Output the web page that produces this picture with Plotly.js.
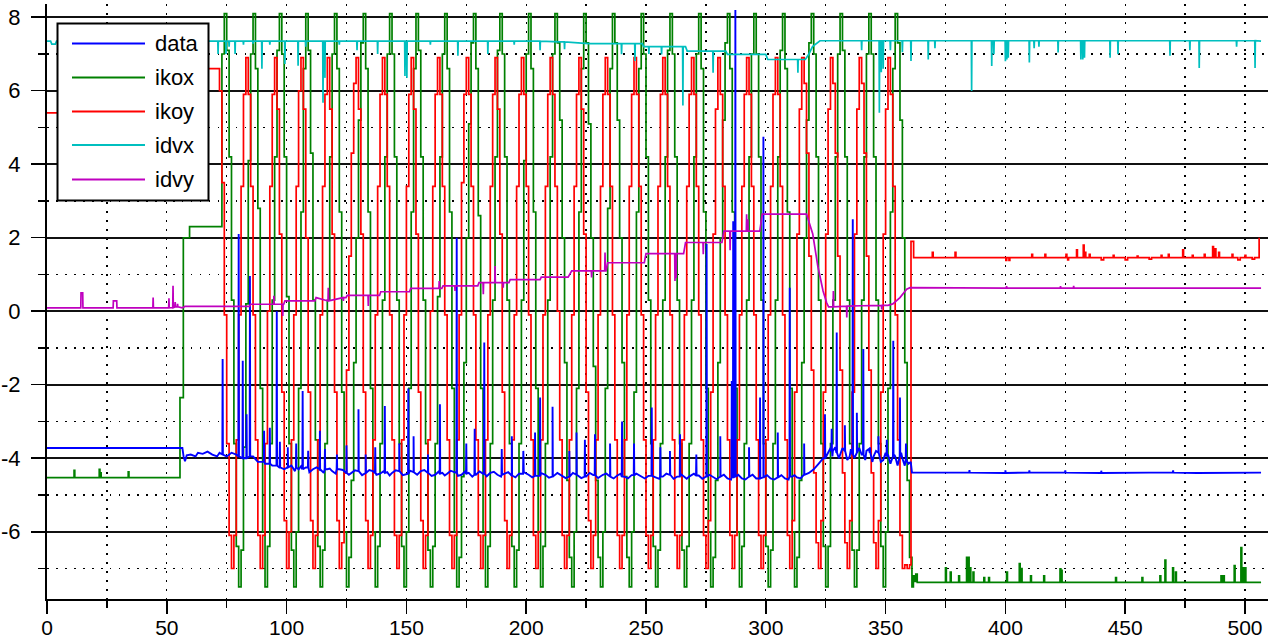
<!DOCTYPE html>
<html>
<head>
<meta charset="utf-8">
<script src="https://cdn.plot.ly/plotly-3.0.1.min.js"></script>
<style>html,body{margin:0;padding:0;background:#fff;}</style>
</head>
<body>
<div id="chart" style="width:1270px;height:640px;"></div>
<script>
// ---------------- DATA ----------------
const seriesNames = ['data', 'ikox', 'ikoy', 'idvx', 'idvy'];
const seriesColors = ['#0000ff', '#008000', '#ff0000', '#00bfbf', '#bf00bf'];

const xTickVals = [0, 50, 100, 150, 200, 250, 300, 350, 400, 450, 500];
const xMinorVals = [25, 75, 125, 175, 225, 275, 325, 375, 425, 475];
const yTickVals = [-6, -4, -2, 0, 2, 4, 6, 8];
const yTickText = ['-6', '-4', '-2', '0', '2', '4', '6', '8'];
const yMinorVals = [-7, -5, -3, -1, 1, 3, 5, 7];

// ikox (green): stepped trace
const ikoxPre = [[0,-4.53],[11.3,-4.33],[11.6,-4.53],[21.8,-4.3],[22.1,-4.53],[22.3,-4.4],[22.6,-4.53],
  [33.9,-4.37],[34.2,-4.53],[55.5,-2.35],[56.9,2.0],[59.5,2.3]];
const ikoxStart = 72;   // one sample per unit from here
const ikoxSamples = [2.3, 7.0,
  8.1, 7.1, 4.2, 0.3, -3.6, -6.4,
  -7.5, -6.5, -3.7, 0.2, 4.1, 7.0,
  8.1, 6.6, 2.8, -2.1, -6.0,
  -7.5, -6.4, -3.6, 0.3, 4.2, 7.1,
  8.1, 7.0, 4.2, 0.4, -3.6, -6.5,
  -7.5, -6.0, -2.1, 2.7, 6.6,
  8.1, 7.1, 4.3, 0.3, -3.5, -6.4,
  -7.5, -6.5, -3.6, 0.3, 4.2, 7.0,
  8.1, 6.6, 2.7, -2.2, -6.0,
  -7.5, -6.7, -4.6, -1.4, 2.0, 5.2, 7.3,
  8.1, 6.6, 2.7, -2.1, -6.0,
  -7.5, -6.4, -3.6, 0.3, 4.2, 7.0,
  8.1, 7.0, 4.2, 0.3, -3.6, -6.4,
  -7.5, -6.0, -2.1, 2.7, 6.6,
  8.1, 7.1, 4.2, 0.3, -3.6, -6.5,
  -7.5, -6.4, -3.6, 0.4, 4.2, 7.0,
  8.1, 6.6, 2.7, -2.1, -6.0,
  -7.5, -6.7, -4.5, -1.4, 2.0, 5.1, 7.3,
  8.1, 6.6, 2.6, -2.1, -6.0,
  -7.5, -6.4, -3.6, 0.3, 4.2, 7.1,
  8.1, 7.0, 4.2, 0.3, -3.6, -6.4,
  -7.5, -6.5, -3.6, 0.3, 4.1, 7.0,
  8.1, 6.6, 2.7, -2.1, -6.0,
  -7.5, -6.4, -3.6, 0.3, 4.2, 7.0,
  8.1, 7.3, 5.2, 2.0, -1.4, -4.6, -6.7,
  -7.5, -6.0, -2.1, 2.7, 6.6,
  8.1, 7.3, 5.1, 2.0, -1.5, -4.6, -6.7,
  -7.5, -6.0, -2.1, 2.8, 6.6,
  8.1, 7.3, 5.2, 2.0, -1.4, -4.5, -6.7,
  -7.5, -6.0, -2.2, 2.7, 6.6,
  8.1, 7.0, 4.2, 0.3, -3.6, -6.4,
  -7.5, -6.5, -3.6, 0.3, 4.2, 7.1,
  8.1, 7.0, 4.2, 0.3, -3.6, -6.5,
  -7.5, -6.4, -3.6, 0.3, 4.2, 7.0,
  8.1, 6.6, 2.7, -2.1, -6.0,
  -7.5, -6.7, -4.6, -1.4, 2.0, 5.2, 7.3,
  8.1, 6.6, 2.7, -2.1, -6.0,
  -7.5, -6.4, -3.6, 0.3, 4.2, 7.0,
  8.1, 7.0, 4.2, 0.3, -3.6, -6.4,
  -7.5, -6.5, -3.6, 0.3, 4.2, 7.1,
  8.1, 6.6, 2.7, -2.1, -6.0,
  -7.5, -6.7, -4.6, -1.4, 2.0, 5.2, 7.3,
  8.1, 7.0, 4.2, 0.3, -3.6, -6.4,
  -7.5, -6.4, -3.6, 0.3, 4.2, 7.0,
  8.1, 7.1, 4.2, 0.3, -3.6, -6.5,
  -7.5, -6.5, -3.6, 0.3, 4.2, 7.0,
  8.1, 7.0, 4.2, 0.3, -3.6, -6.4,
  -7.5, -6.0, -2.1, 2.7, 6.6,
  8.1, 7.3, 5.2, 2.0, -1.4, -4.6, -6.7,
  -7.5];
const ikoxPostBase = [[361.6,-7.2],[362.2,-7.35],[362.6,-7.15],[363.2,-7.38],[506.7,-7.38]];
const ikoxPostSpikes = [[375,-6.98],[377,-7.1],[380.5,-7.2],[383.8,-6.7],[384.5,-6.7],[385.2,-6.98],
  [386.5,-7.1],[391,-7.25],[393,-7.25],[400.5,-7.1],[405.8,-6.87],[406.6,-7.0],[410.5,-7.2],[416,-7.2],
  [422.8,-7.01],[423.3,-7.05],[446,-7.25],[457,-7.25],[464.5,-7.2],[466.6,-6.77],[469.8,-6.98],[471,-7.1],
  [490,-7.2],[491,-7.2],[495.5,-6.92],[498.3,-6.43],[499.2,-6.98],[500,-6.98]];
const ikoxBase = -7.38;

// ikoy (red): stepped trace
const ikoyPre = [[0,5.4],[57,6.6]];
const ikoyStart = 71;
const ikoySamples = [6.6, 6.0, 3.5, -0.1, -3.6, -6.1,
  -7.0, -6.1, -3.5, -0.1, 3.4, 5.9,
  6.9, 5.9, 3.4, -0.1, -3.5, -6.1,
  -7.0, -6.1, -3.6, 0.0, 3.4, 5.9,
  6.9, 5.5, 2.1, -2.2, -5.7,
  -7.0, -6.0, -3.5, -0.1, 3.4, 6.0,
  6.9, 5.5, 2.0, -2.2, -5.7,
  -7.0, -6.1, -3.5, -0.1, 3.4, 5.9,
  6.9, 5.5, 2.1, -2.2, -5.7,
  -7.0, -6.3, -4.4, -1.6, 1.5, 4.3, 6.2,
  6.9, 5.5, 2.1, -2.2, -5.7,
  -7.0, -6.1, -3.5, -0.1, 3.4, 5.9,
  6.9, 5.9, 3.4, -0.1, -3.5, -6.1,
  -7.0, -6.1, -3.5, -0.1, 3.4, 5.9,
  6.9, 5.5, 2.1, -2.2, -5.7,
  -7.0, -6.1, -3.5, 0.0, 3.4, 5.9,
  6.9, 5.9, 3.4, -0.1, -3.5, -6.1,
  -7.0, -6.1, -3.5, -0.1, 3.5, 5.9,
  6.9, 5.9, 3.4, -0.1, -3.5, -6.1,
  -7.0, -6.1, -3.5, -0.1, 3.4, 5.9,
  6.9, 5.5, 2.1, -2.2, -5.7,
  -7.0, -6.1, -3.5, -0.1, 3.4, 5.9,
  6.9, 5.9, 3.4, -0.1, -3.5, -6.1,
  -7.0, -6.0, -3.5, -0.1, 3.4, 5.9,
  6.9, 5.9, 3.4, 0.0, -3.5, -6.1,
  -7.0, -6.1, -3.5, -0.1, 3.4, 5.9,
  6.9, 5.5, 2.1, -2.2, -5.7,
  -7.0, -6.1, -3.5, -0.1, 3.4, 5.9,
  6.9, 5.9, 3.4, -0.1, -3.5, -6.1,
  -7.0, -6.1, -3.5, -0.1, 3.4, 5.9,
  6.9, 5.9, 3.4, -0.1, -3.5, -6.1,
  -7.0, -6.1, -3.5, -0.1, 3.4, 5.9,
  6.9, 5.9, 3.4, -0.1, -3.5, -6.1,
  -7.0, -6.1, -3.5, -0.1, 3.4, 5.9,
  6.9, 5.9, 3.4, -0.1, -3.5, -6.1,
  -7.0, -5.7, -2.2, 2.1, 5.5,
  6.9, 5.9, 3.4, -0.1, -3.5, -6.1,
  -7.0, -6.1, -3.5, -0.1, 3.4, 5.9,
  6.9, 5.9, 3.4, -0.1, -3.5, -6.1,
  -7.0, -6.1, -3.5, -0.1, 3.4, 5.9,
  6.9, 5.9, 3.4, -0.1, -3.5, -6.1,
  -7.0, -5.7, -2.2, 2.1, 5.5,
  6.9, 6.2, 4.3, 1.5, -1.6, -4.4, -6.3,
  -7.0, -5.7, -2.2, 2.1, 5.5,
  6.9, 6.2, 4.3, 1.5, -1.6, -4.4, -6.3,
  -7.0, -5.7, -2.2, 2.1, 5.5,
  6.9, 6.2, 4.3, 1.5, -1.6, -4.4, -6.3,
  -7.0, -5.7, -2.2, 2.1, 5.5,
  6.9, 5.9, 3.4, -0.1, -3.5, -6.1,
  -7.0, -6.9, -7.0, -6.9];
const ikoyPostBase = [[360.6,1.9],[361.7,1.46],[440,1.4],[441,1.46],[450,1.4],[451,1.46],[460,1.42],[461,1.46],
  [497,1.4],[498,1.46],[503,1.42],[504,1.46],[505.9,2.0]];
const ikoyPostSpikes = [[369.5,1.6],[379,1.6],[400.2,1.38],[401.5,1.38],[411,1.55],[416.5,1.55],[425.3,1.55],
  [426,1.4],[429.7,1.67],[432.5,1.8],[433.2,1.6],[435,1.55],[445,1.52],[455,1.5],[465,1.52],[468,1.55],
  [474,1.67],[478,1.52],[483,1.55],[486.5,1.76],[487.5,1.7],[489,1.6],[494.6,1.55],[500,1.52]];
const ikoyBase = 1.46;

// data (blue)
const dataBase = [[0,-3.72],[56.5,-3.72],[57,-3.95],[57.6,-4.08],[58.3,-3.92],[60,-3.9],[62,-3.95],[63,-3.85],
  [65,-3.88],[67,-3.82],[69,-3.9],[71,-3.95],[72,-3.85],[75,-3.95],[77,-3.85],[79,-3.9],[82,-4.0],[86,-3.95],
  [88,-4.1],[91,-4.15],[94,-4.2],[97,-4.25],[99,-4.3],[102,-4.2],[105,-4.3],[108,-4.25],[111,-4.3],[114,-4.35],
  [117,-4.3],[119,-4.35],[122,-4.3],[125,-4.4],[127,-4.4],[130,-4.35],[133,-4.4],[136,-4.35],[139,-4.42],
  [142,-4.38],[144,-4.4],[147,-4.35],[150,-4.42],[153,-4.38],[156,-4.35],[159,-4.4],[162,-4.45],[165,-4.4],
  [167,-4.42],[170,-4.38],[173,-4.45],[176,-4.4],[179,-4.45],[182,-4.42],[185,-4.4],[188,-4.45],[191,-4.42],
  [194,-4.47],[197,-4.42],[201,-4.45],[204,-4.48],[208,-4.45],[211,-4.5],[215,-4.48],[218,-4.5],[221,-4.45],
  [225,-4.5],[228,-4.46],[232,-4.45],[235,-4.5],[238,-4.47],[241,-4.5],[244,-4.46],[248,-4.5],[251,-4.48],
  [254,-4.52],[257,-4.5],[260,-4.45],[263,-4.5],[266,-4.52],[268,-4.5],[272,-4.47],[275,-4.5],[278,-4.52],
  [281,-4.5],[284,-4.55],[287,-4.5],[290,-4.55],[293,-4.5],[296,-4.55],[299,-4.52],[302,-4.55],[305,-4.52],
  [308,-4.55],[311,-4.5],[313,-4.52],[316,-4.45],[318,-4.4],[320,-4.3],[322,-4.15],[324,-4.0],[326,-3.85],
  [328,-3.8],[331,-3.9],[333,-3.8],[335,-3.95],[338,-3.85],[340,-3.9],[342,-3.8],[345,-3.95],[347,-3.85],
  [349,-4.05],[351,-3.9],[354,-3.95],[357,-4.0],[359.5,-4.15],[360.5,-4.1],[361,-4.39],[380,-4.39],
  [400,-4.4],[420,-4.39],[440,-4.4],[460,-4.39],[480,-4.4],[500,-4.39],[506.7,-4.39]];
// small jitter of the blue baseline (read as a band in the picture)
const dataJitter = [[100.5,-4.2],[103.5,-4.35],[106,-4.22],[109.5,-4.38],[112.5,-4.25],[115.5,-4.4],[118,-4.28],
  [120.5,-4.42],[123.5,-4.32],[126,-4.45],[128.5,-4.33],[131.5,-4.46],[134.5,-4.32],[137.5,-4.45],[140.5,-4.35],
  [143,-4.47],[145.5,-4.33],[148.5,-4.46],[151.5,-4.34],[154.5,-4.45],[157.5,-4.32],[160.5,-4.48],[163.5,-4.36],
  [166,-4.47],[168.5,-4.34],[171.5,-4.48],[174.5,-4.36],[177.5,-4.5],[180.5,-4.36],[183.5,-4.49],[186.5,-4.37],
  [189.5,-4.5],[192.5,-4.38],[195.5,-4.52],[199,-4.38],[202.5,-4.52],[206,-4.4],[209.5,-4.53],[213,-4.4],
  [216.5,-4.54],[219.5,-4.4],[223,-4.54],[226.5,-4.4],[230,-4.54],[233.5,-4.42],[236.5,-4.55],[239.5,-4.42],
  [242.5,-4.55],[246,-4.42],[249.5,-4.55],[252.5,-4.43],[255.5,-4.56],[258.5,-4.42],[261.5,-4.56],[264.5,-4.43],
  [267,-4.56],[270,-4.42],[273.5,-4.56],[276.5,-4.45],[279.5,-4.57],[282.5,-4.45],[285.5,-4.58],[288.5,-4.45],
  [291.5,-4.58],[294.5,-4.45],[297.5,-4.58],[300.5,-4.46],[303.5,-4.58],[306.5,-4.46],[309.5,-4.58],[312,-4.46],
  [314.5,-4.55],[326.8,-3.75],[327.8,-3.95],[329,-3.7],[330.5,-4.0],[332,-3.72],[334,-4.05],[335.5,-3.75],
  [337,-4.0],[339,-3.72],[341.5,-4.05],[343,-3.75],[344.5,-4.1],[346,-3.8],[348,-4.1],[350,-3.85],[352,-4.15],
  [353.6,-3.9],[355,-4.2],[356.5,-3.85],[358,-4.2]];
// spikes: [x, base, tip]
const dataSpikes = [[73.3,-3.9,-1.3],[80,-3.95,2.1],[81.7,-4.0,-1.35],[83.3,-4.0,-2.8],[84.7,-3.95,0.96],
  [90.6,-4.1,-3.25],[93,-4.15,-3.17],[95.9,-4.2,0.0],[97.2,-4.25,-3.55],[100.5,-4.25,-3.7],[104,-4.25,-3.6],
  [106.7,-4.3,-2.17],[109,-4.25,-3.8],[113.9,-4.3,-3.25],[116,-4.3,-3.75],[121,-4.3,-3.9],[125,-4.4,-3.65],
  [130,-4.35,-2.67],[133,-4.4,-3.9],[137,-4.4,-3.7],[141,-4.4,-2.58],[147,-4.35,-3.6],[150.8,-4.42,-2.1],
  [153,-4.38,-3.4],[159,-4.4,-3.9],[164,-4.42,-2.53],[171,-4.4,2.0],[175,-4.42,-3.6],[178.5,-4.45,-3.2],
  [182.5,-4.42,-0.85],[189.8,-4.45,-3.75],[194,-4.47,-3.4],[198.8,-4.42,-3.8],[203.7,-4.48,-3.3],
  [205.8,-4.48,-2.35],[211,-4.5,-2.6],[218,-4.5,-3.8],[221,-4.45,-3.3],[224.5,-4.5,-3.5],[228.7,-4.46,-3.35],
  [235,-4.5,-3.6],[240,-4.5,-3.0],[245,-4.46,-3.6],[252.4,-4.48,-2.62],[256,-4.5,-3.7],[260,-4.45,-3.8],
  [264.2,-4.5,-3.35],[271,-4.47,-3.9],[275.3,-4.5,1.83],[281,-4.5,-3.4],[285.8,-4.52,-1.9],[286.4,-4.52,2.45],
  [287.3,-4.5,8.2],[293,-4.5,-3.7],[297.6,-4.55,-2.35],[299,-4.52,4.75],[305,-4.52,-3.3],[310,-4.5,0.64],
  [316,-4.45,-3.6],[324.7,-4.0,-2.8],[327.5,-3.8,-3.2],[329.6,-3.85,-0.58],[333,-3.8,-3.1],[336.3,-3.9,2.5],
  [338,-3.85,-2.76],[340.7,-3.9,-1.03],[343.5,-3.85,-3.7],[347,-3.85,-3.4],[350.5,-3.95,-3.5],
  [353.2,-3.95,-0.8],[356,-3.95,-2.35],[358.5,-4.05,-3.6],
  [385,-4.39,-4.32],[400,-4.4,-4.33],[410,-4.39,-4.33],[425,-4.39,-4.33],[440,-4.4,-4.34],[470,-4.39,-4.33]];

// idvx (cyan)
const idvxBase = [[0,7.35],[1.5,7.35],[2,7.27],[3.5,7.27],[4,7.35],[214,7.33],[226,7.28],[248.5,7.28],
  [249,7.2],[266.5,7.2],[267.2,7.08],[283.3,7.08],[284,6.99],[300,6.99],[300.8,6.85],[316.5,6.85],
  [318,7.0],[319.5,7.2],[322.6,7.36],[506.7,7.35]];
const idvxSpikes = [[71.4,7.35,7.0],[74.7,7.35,7.0],[76,7.35,7.2],[78.5,7.35,7.0],[82,7.35,7.25],
  [86,7.35,7.28],[89.7,7.35,6.6],[93,7.35,7.25],[99.3,7.35,6.73],[104.8,7.35,6.68],[108,7.35,7.2],
  [115.2,7.35,5.67],[116,7.35,6.35],[122,7.35,7.25],[129.4,7.35,7.1],[138,7.35,7.0],[149.4,7.35,6.4],
  [150.2,7.35,6.35],[160,7.35,7.25],[171.5,7.35,6.95],[184,7.35,7.0],[195,7.35,7.25],[205.8,7.35,7.1],
  [216,7.33,7.13],[239.8,7.28,6.99],[245.4,7.28,6.81],[251.2,7.2,7.0],[256.5,7.2,6.99],[265.4,7.2,5.6],
  [278,7.08,6.49],[313.4,6.85,6.49],[340,7.36,7.1],[347.4,7.36,5.4],[348.2,7.36,6.5],[349,7.36,6.6],
  [352,7.36,7.1],[357,7.36,7.05],[360.6,7.36,6.81],[367.8,7.36,6.85],[370.6,7.36,7.16],[385.9,7.36,5.99],
  [394.3,7.36,6.67],[395.2,7.36,6.99],[400,7.36,6.8],[400.6,7.36,6.85],[401.2,7.36,6.9],[410,7.36,6.77],
  [412,7.36,7.16],[414,7.36,7.2],[422,7.36,7.04],[431.5,7.36,6.85],[432.3,7.36,6.85],[433,7.36,6.9],
  [443.7,7.36,6.9],[447,7.36,6.99],[468.7,7.36,6.95],[477,7.36,7.1],[480.9,7.36,6.62],[496.5,7.36,7.2],
  [504.2,7.36,6.62]];

// idvy (magenta)
const idvyBase = [[0,0.09],[14.1,0.09],[14.2,0.5],[14.9,0.5],[15,0.09],[27.6,0.09],[27.7,0.28],[29.1,0.28],
  [29.2,0.09],[56.5,0.09],[57.5,0.13],[84.5,0.13],[85,0.19],[98.8,0.19],[99.3,0.28],[111.8,0.28],
  [112.3,0.37],[124.8,0.37],[125.3,0.43],[138.8,0.43],[139.3,0.53],[151.3,0.53],[151.8,0.62],[164.8,0.62],
  [165.3,0.69],[179.8,0.69],[180.3,0.78],[192.8,0.78],[193.3,0.86],[205.8,0.86],[206.3,0.93],[217.5,0.93],
  [219,1.1],[233.3,1.1],[234,1.32],[249.3,1.32],[250,1.57],[265.7,1.57],[266.5,1.87],[281.7,1.87],
  [282.5,2.18],[297.5,2.18],[298.5,2.64],[317,2.64],[319.6,2.1],[321.7,1.23],[323.9,0.55],[325.4,0.23],
  [326.2,0.12],[340,0.15],[351,0.16],[353,0.2],[356,0.37],[358.8,0.6],[360.2,0.64],[400,0.63],[506.7,0.63]];
const idvySpikes = [[44.3,0.09,0.37],[50.9,0.09,0.35],[52.6,0.1,0.69],[53.5,0.12,0.25],[54.5,0.12,0.2],
  [94.7,0.19,0.42],[98.4,0.19,-0.13],[117.4,0.28,0.64],[123.7,0.37,0.28],[134.1,0.43,0.14],[163.7,0.62,0.82],
  [170.3,0.69,0.55],[182.1,0.78,0.46],[187,0.78,1.23],[190.4,0.78,0.64],[227.3,1.1,0.92],[232.9,1.1,1.6],
  [262.1,1.57,0.82],[262.6,1.57,0.9],[273.9,1.87,1.55],[285.1,2.18,1.66],[292,2.18,2.64],[292.5,2.18,2.5],
  [328.2,0.12,0.55],[333.8,0.14,-0.17],[348.4,0.16,0.05],[400.5,0.63,0.68],[423,0.63,0.68],[428.5,0.63,0.69]];

// ---------------- BUILD ----------------
function linearWithSpikes(base, spikes, w) {
  const pts = base.map(p => [p[0], p[1]]);
  spikes.forEach(s => { pts.push([s[0] - w, s[1]]); pts.push([s[0], s[2]]); pts.push([s[0] + w, s[1]]); });
  pts.sort((a, b) => a[0] - b[0]);
  return { x: pts.map(p => p[0]), y: pts.map(p => p[1]) };
}
function stepped(pre, start, samples, postBase, postSpikes, baseVal, w) {
  const x = [], y = [];
  pre.forEach(p => { x.push(p[0]); y.push(p[1]); });
  samples.forEach((v, i) => { x.push(start + i); y.push(v); });
  const post = postBase.map(p => [p[0], p[1]]);
  postSpikes.forEach(s => { post.push([s[0], s[1]]); post.push([s[0] + w, baseVal]); });
  post.sort((a, b) => a[0] - b[0]);
  post.forEach(p => { x.push(p[0]); y.push(p[1]); });
  return { x, y };
}

const gTrace = stepped(ikoxPre, ikoxStart, ikoxSamples, ikoxPostBase, ikoxPostSpikes, ikoxBase, 0.35);
const rTrace = stepped(ikoyPre, ikoyStart, ikoySamples, ikoyPostBase, ikoyPostSpikes, ikoyBase, 0.35);
const bTrace = linearWithSpikes(dataBase.concat(dataJitter), dataSpikes, 0.12);
const cTrace = linearWithSpikes(idvxBase, idvxSpikes, 0.12);
const mTrace = linearWithSpikes(idvyBase, idvySpikes, 0.12);

const LW = 1.7;
const traces = [
  { x: gTrace.x, y: gTrace.y, name: seriesNames[1], mode: 'lines', line: { color: seriesColors[1], width: LW, shape: 'hv' } },
  { x: rTrace.x, y: rTrace.y, name: seriesNames[2], mode: 'lines', line: { color: seriesColors[2], width: LW, shape: 'hv' } },
  { x: bTrace.x, y: bTrace.y, name: seriesNames[0], mode: 'lines', line: { color: seriesColors[0], width: 1.9 } },
  { x: cTrace.x, y: cTrace.y, name: seriesNames[3], mode: 'lines', line: { color: seriesColors[3], width: LW } },
  { x: mTrace.x, y: mTrace.y, name: seriesNames[4], mode: 'lines', line: { color: seriesColors[4], width: LW } }
];

// ---------------- LAYOUT ----------------
const M = { l: 47, r: 2, t: 4, b: 41 };
const W = 1270 - M.l - M.r, H = 640 - M.t - M.b;
const px = v => (v - M.l) / W;
const py = v => (640 - M.b - v) / H;
const DOT = '1.5px,7.5px';
const FONT = 'Liberation Sans, Arial, sans-serif';

const legendRows = [43.5, 77.5, 111.5, 145, 179.5];
const legendOrder = [0, 1, 2, 3, 4];
const shapes = [{
  type: 'rect', xref: 'paper', yref: 'paper', layer: 'above',
  x0: px(57.5), x1: px(208.5), y0: py(200.5), y1: py(23.5),
  fillcolor: '#ffffff', line: { color: '#000000', width: 2 }
}];
const annotations = [];
legendOrder.forEach((k, i) => {
  shapes.push({ type: 'line', xref: 'paper', yref: 'paper', layer: 'above',
    x0: px(72), x1: px(145), y0: py(legendRows[i]), y1: py(legendRows[i]),
    line: { color: seriesColors[k], width: 2 } });
  annotations.push({ xref: 'paper', yref: 'paper', x: px(153), y: py(legendRows[i]),
    xanchor: 'left', yanchor: 'middle', showarrow: false, text: seriesNames[k],
    font: { family: FONT, size: 22, color: '#000' } });
});

const layout = {
  width: 1270, height: 640,
  margin: M,
  paper_bgcolor: '#ffffff', plot_bgcolor: '#ffffff',
  showlegend: false,
  font: { family: FONT, size: 22, color: '#000' },
  xaxis: {
    range: [0, 509.6], tickmode: 'array', tickvals: xTickVals, ticktext: xTickVals.map(String),
    ticks: 'outside', ticklen: 13, tickwidth: 1.5, tickcolor: '#000',
    showline: true, linecolor: '#000', linewidth: 2, zeroline: false,
    showgrid: true, gridcolor: '#000', gridwidth: 1.3, griddash: DOT,
    ticklabelstandoff: -4,
    tickfont: { family: FONT, size: 21, color: '#000' },
    minor: { tickmode: 'array', tickvals: xMinorVals, ticks: 'outside', ticklen: 7, tickwidth: 1.5,
      tickcolor: '#000', showgrid: true, gridcolor: '#000', gridwidth: 1.3, griddash: DOT }
  },
  yaxis: {
    range: [-7.83, 8.36], tickmode: 'array', tickvals: yTickVals, ticktext: yTickText,
    ticks: 'outside', ticklen: 14, tickwidth: 1.5, tickcolor: '#000',
    showline: true, linecolor: '#000', linewidth: 2, zeroline: false,
    showgrid: true, gridcolor: '#111', gridwidth: 1.6,
    ticklabelstandoff: 6,
    tickfont: { family: FONT, size: 22, color: '#000' },
    minor: { tickmode: 'array', tickvals: yMinorVals, ticks: 'outside', ticklen: 7, tickwidth: 1.5,
      tickcolor: '#000', showgrid: true, gridcolor: '#000', gridwidth: 1.3, griddash: DOT }
  },
  shapes: shapes,
  annotations: annotations
};

Plotly.newPlot('chart', traces, layout, { displayModeBar: false, staticPlot: true });
</script>
</body>
</html>
